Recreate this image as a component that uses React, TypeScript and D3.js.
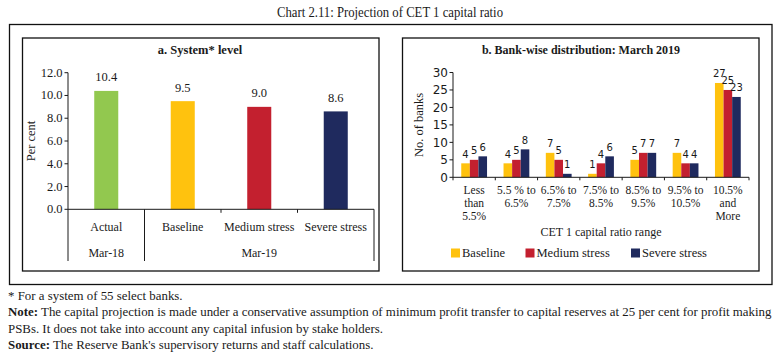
import React, { useLayoutEffect, useRef, useState } from "react";
import * as d3 from "d3";

// ---------- data ----------
const sysCategories = ["Actual", "Baseline", "Medium stress", "Severe stress"];
const sysValues = [10.4, 9.5, 9.0, 8.6];
const sysGroups = [
  { label: "Mar-18", from: 0, to: 0 },
  { label: "Mar-19", from: 1, to: 3 },
];
const sysTicks = [0, 2, 4, 6, 8, 10, 12];

const rangeCategories = [
  ["Less", "than", "5.5%"],
  ["5.5 % to", "6.5%"],
  ["6.5% to", "7.5%"],
  ["7.5% to", "8.5%"],
  ["8.5% to", "9.5%"],
  ["9.5% to", "10.5%"],
  ["10.5%", "and", "More"],
];
const seriesNames = ["Baseline", "Medium stress", "Severe stress"];
const baselineBanks = [4, 4, 7, 1, 5, 7, 27];
const mediumBanks = [5, 5, 5, 4, 7, 4, 25];
const severeBanks = [6, 8, 1, 6, 7, 4, 23];
const bankTicks = [0, 5, 10, 15, 20, 25, 30];

const footLines = [
  "* For a system of 55 select banks.",
  "The capital projection is made under a conservative assumption of minimum profit transfer to capital reserves at 25 per cent for profit making",
  "PSBs. It does not take into account any capital infusion by stake holders.",
  "The Reserve Bank's supervisory returns and staff calculations.",
];

// ---------- styles ----------
const GREEN = "#92c84f";
const YELLOW = "#ffc20e";
const RED = "#c3202f";
const NAVY = "#1f2a5e";
const sysColors = [GREEN, YELLOW, RED, NAVY];
const seriesColors = [YELLOW, RED, NAVY];
const SERIF = "'Liberation Serif', 'DejaVu Serif', serif";
const SANS = "'DejaVu Sans', sans-serif";
const INK = "#1a1a1a";

export default function App() {
  const noteRef = useRef<SVGTextElement>(null);
  const [fk, setFk] = useState(1);
  useLayoutEffect(() => {
    if (noteRef.current) {
      const w = noteRef.current.getComputedTextLength();
      if (w > 0) setFk(764 / w);
    }
  }, []);

  // ----- panel a scales -----
  const ax = d3
    .scaleBand<string>()
    .domain(sysCategories)
    .range([68, 374])
    .paddingInner(0.686)
    .paddingOuter(0.343);
  const ay = d3.scaleLinear().domain([0, 12]).range([209.3, 72.7]);
  const aStep = ax.step();
  const aLeft = 68;

  // ----- panel b scales -----
  const bKeys = rangeCategories.map((_, i) => String(i));
  const bx0 = d3
    .scaleBand<string>()
    .domain(bKeys)
    .range([453, 749])
    .paddingInner(0.39)
    .paddingOuter(0.195);
  const bx1 = d3
    .scaleBand<string>()
    .domain(seriesNames)
    .range([0, bx0.bandwidth()]);
  const by = d3.scaleLinear().domain([0, 30]).range([177.3, 72.5]);
  const bankSeries = [baselineBanks, mediumBanks, severeBanks];
  const bStep = bx0.step();

  return (
    <svg
      width={781}
      height={360}
      style={{ position: "fixed", left: 0, top: 0, background: "#fff" }}
    >
      <rect width={781} height={360} fill="#fff" />
      {/* title */}
      <text
        x={390}
        y={17}
        textAnchor="middle"
        fontFamily={SERIF}
        fontSize={14}
        fill={INK}
        textLength={226}
        lengthAdjust="spacingAndGlyphs"
      >
        Chart 2.11: Projection of CET 1 capital ratio
      </text>

      {/* frames */}
      <rect x={9.5} y={24.5} width={762.5} height={260} fill="none" stroke="#111" strokeWidth={1.3} />
      <rect x={22.5} y={38} width={356.5} height={233} fill="none" stroke="#111" strokeWidth={1.3} />
      <rect x={402.5} y={38} width={356.5} height={233} fill="none" stroke="#111" strokeWidth={1.3} />

      {/* ---------- Panel a ---------- */}
      <text x={200} y={54} textAnchor="middle" fontFamily={SERIF} fontWeight="bold" fontSize={12.5} fill={INK}>
        a. System* level
      </text>
      <g>
        <line x1={aLeft} x2={aLeft} y1={ay(12)} y2={ay(0)} stroke={INK} strokeWidth={1} />
        {sysTicks.map((t) => (
          <g key={t}>
            <line x1={aLeft - 3.5} x2={aLeft} y1={ay(t)} y2={ay(t)} stroke={INK} />
            <text x={62.5} y={ay(t) + 4} textAnchor="end" fontFamily={SERIF} fontSize={12.5} fill={INK}>
              {t.toFixed(1)}
            </text>
          </g>
        ))}
        <text
          transform={`translate(35,${(ay(0) + ay(12)) / 2}) rotate(-90)`}
          textAnchor="middle"
          fontFamily={SERIF}
          fontSize={12.5}
          fill={INK}
        >
          Per cent
        </text>
        {sysCategories.map((c, i) => (
          <g key={c}>
            <rect
              x={ax(c)!}
              y={ay(sysValues[i])}
              width={ax.bandwidth()}
              height={ay(0) - ay(sysValues[i])}
              fill={sysColors[i]}
            />
            <text
              x={ax(c)! + ax.bandwidth() / 2}
              y={ay(sysValues[i]) - 9.5}
              textAnchor="middle"
              fontFamily={SERIF}
              fontSize={12.5}
              fill={INK}
            >
              {sysValues[i].toFixed(1)}
            </text>
            <text
              x={ax(c)! + ax.bandwidth() / 2}
              y={231}
              textAnchor="middle"
              fontFamily={SERIF}
              fontSize={12}
              fill={INK}
            >
              {c}
            </text>
          </g>
        ))}
        <line x1={aLeft} x2={aLeft + aStep * 4} y1={ay(0)} y2={ay(0)} stroke={INK} strokeWidth={1} />
        {d3.range(5).map((k) => {
          const x = aLeft + aStep * k;
          const isSep = k === 0 || k === 1 || k === 4;
          return (
            <line key={k} x1={x} x2={x} y1={ay(0)} y2={isSep ? 261 : ay(0) + 3.5} stroke={INK} strokeWidth={1} />
          );
        })}
        {sysGroups.map((g) => (
          <text
            key={g.label}
            x={aLeft + aStep * ((g.from + g.to + 1) / 2)}
            y={257}
            textAnchor="middle"
            fontFamily={SERIF}
            fontSize={12}
            fill={INK}
          >
            {g.label}
          </text>
        ))}
      </g>

      {/* ---------- Panel b ---------- */}
      <text x={581} y={54} textAnchor="middle" fontFamily={SERIF} fontWeight="bold" fontSize={12} fill={INK}>
        b. Bank-wise distribution: March 2019
      </text>
      <g>
        <line x1={453} x2={453} y1={by(30)} y2={by(0)} stroke={INK} />
        {bankTicks.map((t) => (
          <g key={t}>
            <line x1={449.5} x2={453} y1={by(t)} y2={by(t)} stroke={INK} />
            <text x={448} y={by(t) + 4.3} textAnchor="end" fontFamily={SANS} fontSize={12} fill={INK}>
              {t}
            </text>
          </g>
        ))}
        <text
          transform={`translate(423,${(by(0) + by(30)) / 2}) rotate(-90)`}
          textAnchor="middle"
          fontFamily={SERIF}
          fontSize={12.5}
          fill={INK}
        >
          No. of banks
        </text>
        {bKeys.map((k, ci) => (
          <g key={k}>
            {seriesNames.map((s, si) => {
              const v = bankSeries[si][ci];
              const x = bx0(k)! + bx1(s)!;
              return (
                <g key={s}>
                  <rect x={x} y={by(v)} width={bx1.bandwidth()} height={by(0) - by(v)} fill={seriesColors[si]} />
                  <text
                    x={x + bx1.bandwidth() / 2}
                    y={by(v) - 5.5}
                    textAnchor="middle"
                    fontFamily={SANS}
                    fontSize={10}
                    fill={INK}
                  >
                    {v}
                  </text>
                </g>
              );
            })}
            {rangeCategories[ci].map((ln, li) => (
              <text
                key={li}
                x={bx0(k)! + bx0.bandwidth() / 2}
                y={194 + li * 13}
                textAnchor="middle"
                fontFamily={SERIF}
                fontSize={11.5}
                fill={INK}
              >
                {ln}
              </text>
            ))}
          </g>
        ))}
        <line x1={453} x2={749} y1={by(0)} y2={by(0)} stroke={INK} />
        {d3.range(8).map((j) => (
          <line key={j} x1={453 + bStep * j} x2={453 + bStep * j} y1={by(0)} y2={by(0) + 3} stroke={INK} />
        ))}
        <text x={601} y={236} textAnchor="middle" fontFamily={SERIF} fontSize={12} fill={INK}>
          CET 1 capital ratio range
        </text>
        {seriesNames.map((s, si) => {
          const sx = [451, 525.5, 631][si];
          return (
            <g key={s}>
              <rect x={sx} y={248.5} width={9} height={9} fill={seriesColors[si]} />
              <text x={sx + 11} y={257} fontFamily={SERIF} fontSize={12.5} fill={INK}>
                {s}
              </text>
            </g>
          );
        })}
      </g>

      {/* ---------- footer ---------- */}
      <g transform={`translate(8,0) scale(${fk},1)`} fontFamily={SERIF} fontSize={12.5} fill={INK}>
        <text x={0} y={300}>{footLines[0]}</text>
        <text x={0} y={316.5} ref={noteRef}>
          <tspan fontWeight="bold">Note:</tspan> {footLines[1]}
        </text>
        <text x={0} y={333}>{footLines[2]}</text>
        <text x={0} y={349.5}>
          <tspan fontWeight="bold">Source:</tspan> {footLines[3]}
        </text>
      </g>
    </svg>
  );
}
